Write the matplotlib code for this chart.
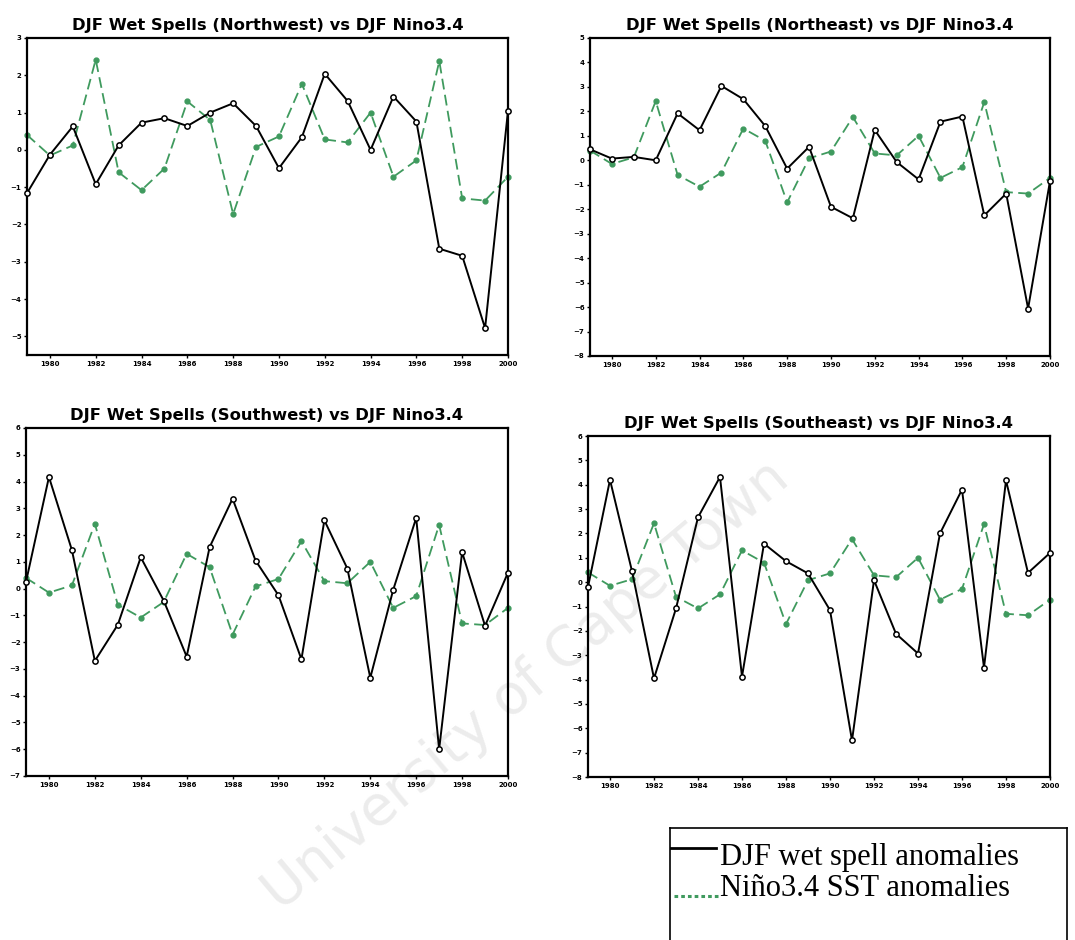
import matplotlib.pyplot as plt

years = list(range(1979, 2001))

nino34 = [0.4, -0.15, 0.12, 2.42, -0.6, -1.08, -0.5, 1.3, 0.8, -1.72, 0.08,
          0.36, 1.77, 0.28, 0.2, 1.0, -0.72, -0.28, 2.38, -1.3, -1.36, -0.72]

wet_nw = [-1.16, -0.13, 0.63, -0.92, 0.12, 0.73, 0.85, 0.64, 1.0, 1.25, 0.64,
          -0.49, 0.34, 2.04, 1.31, 0.0, 1.43, 0.76, -2.65, -2.84, -4.78, 1.05]
wet_ne = [0.45, 0.07, 0.14, 0.0, 1.92, 1.23, 3.04, 2.5, 1.4, -0.34, 0.55,
          -1.9, -2.37, 1.24, -0.07, -0.78, 1.58, 1.79, -2.25, -1.36, -6.06, -0.85]
wet_sw = [0.25, 4.17, 1.44, -2.7, -1.35, 1.17, -0.45, -2.54, 1.55, 3.36, 1.05,
          -0.25, -2.64, 2.55, 0.75, -3.33, -0.04, 2.64, -6.0, 1.36, -1.39, 0.6]
wet_se = [-0.2, 4.2, 0.45, -3.95, -1.08, 2.66, 4.32, -3.88, 1.58, 0.86, 0.36,
          -1.15, -6.5, 0.08, -2.12, -2.93, 2.0, 3.8, -3.51, 4.18, 0.38, 1.2]

regions = ["Northwest", "Northeast", "Southwest", "Southeast"]
wet = [wet_nw, wet_ne, wet_sw, wet_se]
ylims = [(-5.5, 3), (-8, 5), (-7, 6), (-8, 6)]

W, H = 1075, 940
# axes boxes in pixels: left, top, right, bottom
boxes = [(27, 38, 508, 355), (590, 38, 1050, 356),
         (26, 428, 508, 776), (588, 436, 1050, 777)]

green = "#3f9a5e"

fig = plt.figure(figsize=(W / 100, H / 100), dpi=100)

# faint watermark behind everything
fig.text(0.49, 0.27, "University of Cape Town", fontsize=40, color="#ececec",
         rotation=40, ha="center", va="center", zorder=-1)

for region, series, ylim, (l, t, r, b) in zip(regions, wet, ylims, boxes):
    ax = fig.add_axes([l / W, 1 - b / H, (r - l) / W, (b - t) / H])
    ax.set_facecolor("none")
    ax.plot(years, nino34, color=green, lw=1.3, ls=(0, (6, 3)), marker="o",
            ms=3.5, mfc=green, mec=green, clip_on=False)
    ax.plot(years, series, color="black", lw=1.4, marker="o", ms=3.8,
            mfc="white", mec="black", mew=1.1, clip_on=False, zorder=3)
    ax.set_xlim(1979, 2000)
    ax.set_ylim(*ylim)
    ax.set_xticks(range(1980, 2001, 2))
    ax.set_yticks(range(int(ylim[0]), int(ylim[1]) + 1))
    ax.tick_params(labelsize=5, length=2, width=1, pad=2)
    for lab in ax.get_xticklabels() + ax.get_yticklabels():
        lab.set_fontweight("bold")
    for sp in ax.spines.values():
        sp.set_linewidth(1.6)
    ax.set_title(f"DJF Wet Spells ({region}) vs DJF Nino3.4",
                 fontsize=11.8, fontweight="bold", pad=6)

# legend box drawn at the lower right
lax = fig.add_axes([670 / W, 0, (1067 - 670) / W, (H - 828) / H])
lax.set_xlim(0, 397)
lax.set_ylim(112, 0)
lax.set_xticks([])
lax.set_yticks([])
for sp in lax.spines.values():
    sp.set_linewidth(1.2)
lax.spines["bottom"].set_visible(False)
lax.plot([0, 46], [20, 20], color="black", lw=2)
lax.plot([4, 48], [68, 68], color=green, lw=2.2, ls=(0, (1.2, 1)))
lax.text(50, 30, "DJF wet spell anomalies", fontsize=22,
         family="Liberation Serif", va="center")
lax.text(50, 60, "Niño3.4 SST anomalies", fontsize=22,
         family="Liberation Serif", va="center")

fig.savefig("out.png", dpi=100)
